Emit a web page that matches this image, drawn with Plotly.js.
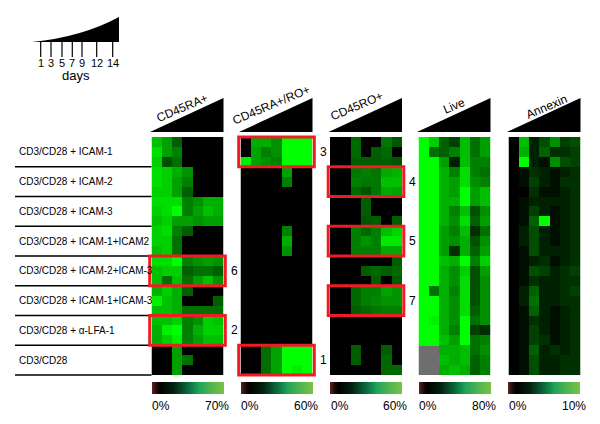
<!DOCTYPE html>
<html><head><meta charset="utf-8">
<script src="https://cdn.plot.ly/plotly-3.0.1.min.js"></script>
<style>html,body{margin:0;padding:0;background:#fff}</style>
</head><body><div id="chart" style="width:600px;height:424px"></div>
<script>
const days = ['1','3','5','7','9','12','14'];
const conditions = ['CD3/CD28 + ICAM-1','CD3/CD28 + ICAM-2','CD3/CD28 + ICAM-3','CD3/CD28 + ICAM-1+ICAM2',
  'CD3/CD28 + ICAM-2+ICAM-3','CD3/CD28 + ICAM-1+ICAM-3','CD3/CD28 + \u03b1-LFA-1','CD3/CD28'];
const panelTitles = ['CD45RA+','CD45RA+/RO+','CD45RO+','Live','Annexin'];
const scaleMax = [70,60,60,80,10];
const scaleLabels = [['0%','70%'],['0%','60%'],['0%','60%'],['0%','80%'],['0%','10%']];

// 24 rows = 8 conditions x 3 replicates, 7 days each (percent)
const cd45ra = [
 [53,44,26,0,0,0,0],[61,44,35,0,0,0,0],[57,22,31,0,0,0,0],
 [61,57,48,40,0,0,0],[61,57,44,35,0,0,0],[57,57,44,26,0,0,0],
 [61,61,61,35,40,48,48],[57,61,70,35,44,53,48],[53,57,44,44,40,44,44],
 [57,61,35,26,0,0,0],[57,57,31,0,0,0,0],[53,57,31,0,0,0,0],
 [61,61,70,35,40,44,40],[53,57,57,26,31,31,26],[53,31,53,31,44,53,40],
 [48,57,48,26,0,0,0],[66,53,48,0,0,0,26],[53,53,48,31,31,31,31],
 [53,53,57,35,40,57,53],[48,66,70,35,48,57,57],[48,57,66,35,44,53,53],
 [0,0,44,0,0,0,0],[0,0,44,31,0,0,0],[0,0,44,0,0,0,0]];
const cd45raro = [
 [0,41,41,34,60,60,60],[0,38,30,34,60,60,60],[56,38,34,30,60,60,60],
 [0,0,0,0,38,0,0],[0,0,0,0,30,0,0],[0,0,0,0,0,0,0],
 [0,0,0,0,0,0,0],[0,0,0,0,0,0,0],[0,0,0,0,0,0,0],
 [0,0,0,0,30,0,0],[0,0,0,0,41,0,0],[0,0,0,0,34,0,0],
 [0,0,0,0,0,0,0],[0,0,0,0,0,0,0],[0,0,0,0,0,0,0],
 [0,0,0,0,0,0,0],[0,0,0,0,0,0,0],[0,0,0,0,0,0,0],
 [0,0,0,0,0,0,0],[0,0,0,0,0,0,0],[0,0,0,0,0,0,0],
 [0,0,26,38,60,60,60],[0,0,26,38,60,60,60],[0,0,26,38,60,56,60]];
const cd45ro = [
 [0,0,25,0,0,28,20],[0,0,25,0,22,25,0],[0,0,22,22,22,22,20],
 [0,0,28,30,28,40,42],[0,0,30,28,28,45,45],[0,0,25,20,28,40,38],
 [0,0,0,22,0,0,0],[0,0,0,22,0,0,0],[0,0,0,20,22,0,22],
 [0,0,30,25,30,45,50],[0,0,30,35,30,55,55],[0,0,30,30,30,40,40],
 [0,0,0,0,0,0,22],[0,0,0,22,25,22,25],[0,0,0,0,22,0,22],
 [0,0,25,30,30,38,35],[0,0,25,30,32,35,35],[0,0,22,25,28,30,30],
 [0,0,0,0,0,0,0],[0,0,0,0,0,0,0],[0,0,0,0,0,0,0],
 [0,0,22,0,0,22,0],[0,0,22,0,0,25,0],[0,0,0,0,0,25,25]];
const live = [
 [80,65,30,20,60,35,50],[80,35,30,40,60,35,50],[80,80,50,10,60,40,40],
 [80,80,55,40,70,40,35],[80,80,55,50,70,45,40],[80,80,55,50,80,50,60],
 [80,80,55,55,80,50,60],[80,80,55,40,60,25,45],[80,80,55,45,70,30,50],
 [80,80,50,40,60,15,35],[80,80,50,45,55,25,45],[80,80,50,15,55,30,50],
 [80,80,60,55,80,40,65],[80,80,55,45,65,25,50],[80,80,55,45,70,25,45],
 [80,35,55,40,70,25,45],[80,80,55,45,70,25,45],[80,80,55,45,70,30,45],
 [80,75,55,45,80,35,45],[80,80,55,40,80,20,15],[80,80,60,50,80,35,40],
 [null,null,55,55,60,35,45],[null,null,60,55,60,30,40],[null,null,55,60,55,30,40]];
const annexin = [
 [0,7.5,1.3,3.1,5.6,2.5,3.1],[0,6.9,1.3,3.8,1.9,1.9,2.5],[0,10,1.3,0.6,5.6,3.1,2.5],
 [0,0.6,1.9,1.3,0.6,1.3,1.9],[0,0.6,2.5,1.3,0.6,1.9,1.9],[0,0,1.9,0.6,0.6,1.3,1.9],
 [0,0.6,1.3,1.3,1.3,1.3,1.9],[0,0.6,2.5,1.3,0.6,1.3,1.9],[0,0.6,3.8,10,0.6,1.3,1.9],
 [0,1.3,3.1,1.3,0.6,1.3,1.9],[0,1.3,3.1,1.3,0.6,1.3,1.9],[0,0.6,3.1,1.3,1.3,1.3,1.9],
 [0,0.6,1.3,1.9,0.6,1.3,1.9],[0,0.6,3.1,2.5,1.3,1.9,2.5],[0,0.6,1.9,1.3,1.3,1.9,1.9],
 [0,1.3,3.8,1.3,1.3,1.9,2.5],[0,1.3,4.4,1.3,1.3,1.9,1.9],[0,0.6,3.8,1.3,0.6,1.3,1.9],
 [0,0.6,1.9,1.3,0.6,1.3,1.9],[0,0.6,2.5,1.3,0.6,1.3,1.9],[0,0.6,2.5,1.9,0.6,1.3,1.9],
 [0,0.6,3.8,1.3,1.9,1.3,1.9],[0,0.6,3.1,1.3,1.3,1.9,1.9],[0,0.6,3.1,1.3,1.3,1.9,1.9]];
const panelData = [cd45ra, cd45raro, cd45ro, live, annexin];
// highlighted boxes: panel index, condition index, label
const highlights = [[1,0,'3'],[2,1,'4'],[2,3,'5'],[2,5,'7'],[0,4,'6'],[0,6,'2'],[1,7,'1']];

const W=600,H=424;
const px=x=>x/W, py=y=>1-y/H;
const FONT='Arial, "Liberation Sans", sans-serif';
const panelLeft=[151.5,240.5,330,418.5,508.5], PW=72, TOP=137, BOT=375;
const GH=(BOT-TOP)/8;
const cellScale=[[0,'#000000'],[1,'#00ff00']];
const legendScale=[[0,'#5e2222'],[0.07,'#1a0808'],[0.12,'#000000'],[0.3,'#03200f'],[0.5,'#0b6a3a'],[0.65,'#1fa35a'],[0.82,'#50b54e'],[1,'#7ac143']];

const traces=[], shapes=[], annotations=[];
const layout={width:W,height:H,margin:{l:0,r:0,t:0,b:0},paper_bgcolor:'#fff',plot_bgcolor:'rgba(0,0,0,0)',
  showlegend:false,font:{family:FONT,color:'#000'}};
const rows=[...Array(24).keys()];

panelData.forEach((z,i)=>{
  const n=i+1, L=panelLeft[i];
  layout['xaxis'+n]={domain:[px(L),px(L+PW)],range:[-0.5,6.5],visible:false,fixedrange:true,type:'category',anchor:'y'+n};
  layout['yaxis'+n]={domain:[py(BOT),py(TOP)],range:[23.5,-0.5],visible:false,fixedrange:true,anchor:'x'+n};
  traces.push({type:'heatmap',z:z,x:days,y:rows,xaxis:'x'+n,yaxis:'y'+n,zmin:0,zmax:scaleMax[i],
    colorscale:cellScale,showscale:false,hoverinfo:'skip',xgap:0,ygap:0});
  traces.push({type:'scatter',mode:'markers',x:[null],y:[null],xaxis:'x'+n,yaxis:'y'+n,hoverinfo:'skip',
    marker:{color:[0,scaleMax[i]],cmin:0,cmax:scaleMax[i],colorscale:legendScale,showscale:true,
      colorbar:{orientation:'h',x:px(L+PW/2),xanchor:'center',y:py(382),yanchor:'top',len:PW,lenmode:'pixels',
        thickness:12,thicknessmode:'pixels',outlinewidth:0,showticklabels:false,ticks:'',xpad:0,ypad:0,borderwidth:0}}});
  // triangle
  shapes.push({type:'path',xref:'paper',yref:'paper',
    path:`M ${px(L-1.5)},${py(132)} L ${px(L+PW)},${py(132)} L ${px(L+PW)},${py(98)} Z`,
    fillcolor:'#000',line:{width:0}});
  annotations.push({xref:'paper',yref:'paper',x:px(L-1.5),y:py(406),text:scaleLabels[i][0],showarrow:false,
    xanchor:'left',yanchor:'middle',font:{size:12}});
  annotations.push({xref:'paper',yref:'paper',x:px(L+PW+7),y:py(406),text:scaleLabels[i][1],showarrow:false,
    xanchor:'right',yanchor:'middle',font:{size:12}});
});

// gray missing block in Live
shapes.push({type:'rect',xref:'x4',yref:'y4',x0:-0.5,x1:1.5,y0:20.5,y1:23.5,fillcolor:'#6e6e6e',line:{width:0},layer:'below'});

// panel titles
const titlePos=[[182,108],[271,105],[357,106],[454,106],[546,107]];
panelTitles.forEach((t,i)=>annotations.push({xref:'paper',yref:'paper',x:px(titlePos[i][0]),y:py(titlePos[i][1]),
  text:t,showarrow:false,textangle:-23,xanchor:'center',yanchor:'middle',font:{size:12}}));

// row labels & separators
conditions.forEach((c,k)=>{
  annotations.push({xref:'paper',yref:'paper',x:px(17),y:py(TOP+GH*(k+0.5)),text:c,showarrow:false,
    xanchor:'left',yanchor:'middle',font:{size:10}});
  shapes.push({type:'line',xref:'paper',yref:'paper',x0:px(15),x1:px(151.5),y0:py(TOP+GH*(k+1)),y1:py(TOP+GH*(k+1)),
    line:{color:'#000',width:1.5}});
});

// highlight boxes
highlights.forEach(([p,g,lab])=>{
  const L=panelLeft[p];
  shapes.push({type:'rect',xref:'paper',yref:'paper',x0:px(L-1.8),x1:px(L+PW+1.8),y0:py(TOP+GH*g),y1:py(TOP+GH*(g+1)),
    line:{color:'#ee1c24',width:3},fillcolor:'rgba(0,0,0,0)'});
  annotations.push({xref:'paper',yref:'paper',x:px(L+PW+5),y:py(TOP+GH*(g+0.5)),text:lab,showarrow:false,
    xanchor:'left',yanchor:'middle',font:{size:12}});
});

// days legend (top-left)
shapes.push({type:'path',xref:'paper',yref:'paper',
  path:`M ${px(32)},${py(42)} Q ${px(82)},${py(37)} ${px(119)},${py(17)} L ${px(119)},${py(42)} Z`,fillcolor:'#000',line:{width:0}});
const dayTickX=[40.7,51,62,72.3,82,96.7,112.7];
days.forEach((d,j)=>{
  shapes.push({type:'line',xref:'paper',yref:'paper',x0:px(dayTickX[j]),x1:px(dayTickX[j]),y0:py(42),y1:py(57),line:{color:'#000',width:1.2}});
  annotations.push({xref:'paper',yref:'paper',x:px(dayTickX[j]),y:py(63),text:d,showarrow:false,xanchor:'center',yanchor:'middle',font:{size:11}});
});
annotations.push({xref:'paper',yref:'paper',x:px(76),y:py(76),text:'days',showarrow:false,xanchor:'center',yanchor:'middle',font:{size:13}});

layout.shapes=shapes; layout.annotations=annotations;
Plotly.newPlot('chart',traces,layout,{staticPlot:true,displayModeBar:false});
</script></body></html>
